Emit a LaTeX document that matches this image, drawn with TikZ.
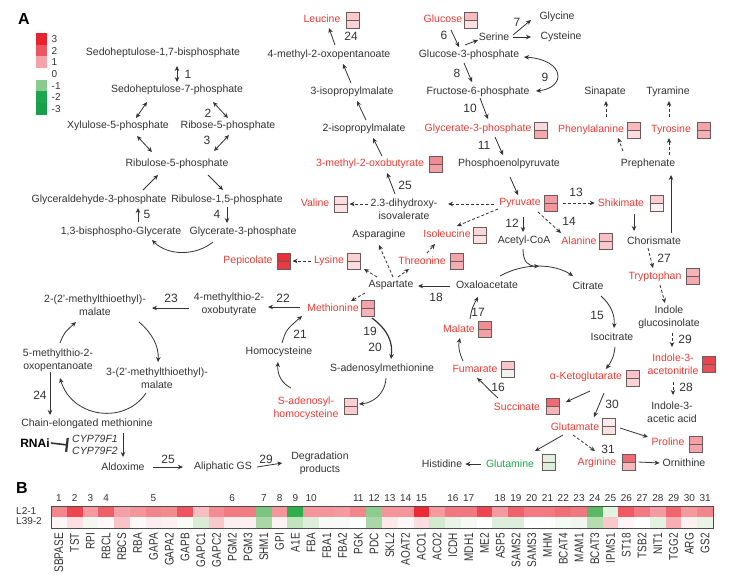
\documentclass[tikz,border=0pt]{standalone}
\usepackage{fontspec}
\setmainfont{Liberation Sans}
\usetikzlibrary{arrows.meta}
\definecolor{tx}{HTML}{333333}
\definecolor{rd}{HTML}{EE3B33}
\definecolor{gn}{HTML}{1FA64A}
\definecolor{bx}{HTML}{6B5B5B}
\definecolor{lc3}{HTML}{E8232F}
\definecolor{lc2}{HTML}{EF5560}
\definecolor{lc1}{HTML}{F6A2A9}
\definecolor{lg1}{HTML}{8CCB8E}
\definecolor{lg2}{HTML}{1CA54F}
\definecolor{lg3}{HTML}{15A049}
\newcommand\mbx[4]{%
  \definecolor{#1t}{HTML}{#3}\definecolor{#1b}{HTML}{#4}%
  \node[bxs] (#1) at #2 {};
  \fill[#1t] (#1.north west) rectangle (#1.east);
  \fill[#1b] (#1.west) rectangle (#1.south east);
  \draw[bx,line width=0.7pt] (#1.north west) rectangle (#1.south east);
  \draw[bx,line width=0.6pt] (#1.west) -- (#1.east);}
\begin{document}
\begin{tikzpicture}[x=1pt,y=-1pt,
  mt/.style={text=tx,font=\fontsize{10.5}{13}\selectfont,inner sep=1pt,align=center},
  mr/.style={mt,text=rd},
  mg/.style={mt,text=gn},
  lb/.style={text=tx,font=\fontsize{12}{12}\selectfont,inner sep=0pt},
  hl/.style={text=tx,font=\fontsize{10}{10}\selectfont,inner sep=0pt},
  gene/.style={rotate=90,anchor=east,text=tx,font=\fontsize{10}{10}\selectfont,inner sep=0pt},
  bxs/.style={minimum width=13pt,minimum height=16pt,inner sep=0pt,outer sep=0pt},
  arr/.style={draw=tx,line width=0.8pt,-{Stealth[length=5pt,width=4.5pt]}},
  darr/.style={arr,dash pattern=on 3pt off 2pt},
  barr/.style={draw=tx,line width=0.8pt,{Stealth[length=5pt,width=4.5pt]}-{Stealth[length=5pt,width=4.5pt]}},
]
\fill[white] (0,0) rectangle (730,574);
\useasboundingbox (0,0) rectangle (730,574);

% panel labels
\node[text=black,font=\bfseries\fontsize{16}{16}\selectfont,inner sep=0pt] (pa) at (24,19) {A};
\node[text=black,font=\bfseries\fontsize{16}{16}\selectfont,inner sep=0pt] (pb) at (22,488) {B};

% legend
\fill[lc3] (36,33) rectangle (47,45);
\fill[lc2] (36,45) rectangle (47,56);
\fill[lc1] (36,56) rectangle (47,68);
\fill[lg1] (36,80) rectangle (47,91);
\fill[lg2] (36,91) rectangle (47,103);
\fill[lg3] (36,103) rectangle (47,115);
\foreach \v/\y [count=\k] in {3/39,2/51,1/62,0/74,-1/86,-2/97,-3/109}
  \node[hl,anchor=west] (lg\k) at (51.5,\y) {\v};

% pentose phosphate
\node[mt] (s17) at (163,53) {Sedoheptulose-1,7-bisphosphate};
\node[mt] (s7) at (177,90) {Sedoheptulose-7-phosphate};
\node[mt] (xyl) at (118,126) {Xylulose-5-phosphate};
\node[mt] (rib) at (228,126) {Ribose-5-phosphate};
\node[mt] (ru5) at (177,164) {Ribulose-5-phosphate};
\node[mt] (gap) at (99,200) {Glyceraldehyde-3-phosphate};
\node[mt] (ru15) at (227,200) {Ribulose-1,5-phosphate};
\node[mt] (bpg) at (121,232) {1,3-bisphospho-Glycerate};
\node[mt] (g3pl) at (243,232) {Glycerate-3-phosphate};
\draw[barr] ([shift={(14,13)}]s17.center) -- ([shift={(0,-8)}]s7.center);
\node[lb] (n1) at (188,74) {1};
\draw[barr] ([shift={(-30,12)}]s7.center) -- ([shift={(18,-8)}]xyl.center);
\draw[barr] ([shift={(36,12)}]s7.center) -- ([shift={(0,-8)}]rib.center);
\node[lb] (n2) at (208,113) {2};
\draw[barr] ([shift={(19,10)}]xyl.center) -- ([shift={(-25,-12)}]ru5.center);
\draw[barr] ([shift={(1,9)}]rib.center) -- ([shift={(37,-13)}]ru5.center);
\node[lb] (n3) at (207,140) {3};
\draw[arr] ([shift={(44,-10)}]gap.center) -- ([shift={(-19,11)}]ru5.center);
\draw[arr] ([shift={(31,11)}]ru5.center) -- ([shift={(-4,-10)}]ru15.center);
\draw[arr] ([shift={(17,-10)}]bpg.center) -- ([shift={(39,8)}]gap.center);
\node[lb] (n5) at (147,214) {5};
\draw[arr] ([shift={(0,7)}]ru15.center) -- ([shift={(-16,-9)}]g3pl.center);
\node[lb] (n4) at (217,214) {4};
\draw[arr] ([shift={(-30,10)}]g3pl.center) .. controls (196,256) and (168,256) .. ([shift={(31,8)}]bpg.center);

% leucine branch
\node[mr] (leu) at (322,19) {Leucine}; \mbx{leuB}{(353,20)}{F9C9CC}{F9D3D6}
\node[mt] (mop) at (329,55) {4-methyl-2-oxopentanoate};
\node[mt] (ipm3) at (352,92) {3-isopropylmalate};
\node[mt] (ipm2) at (364,129) {2-isopropylmalate};
\node[mr] (mob) at (370,164) {3-methyl-2-oxobutyrate}; \mbx{mobB}{(436,164)}{F08C93}{F4A0A6}
\node[mt] (dhi) at (404,209) {2.3-dihydroxy-\\isovalerate};
\node[mr] (val) at (315,203) {Valine}; \mbx{valB}{(341,204)}{FBDDE0}{FBE3E5}
\draw[arr] ([shift={(6,-10)}]mop.center) -- ([shift={(7,9)}]leu.center);
\node[lb] (n24a) at (351,36) {24};
\draw[arr] ([shift={(-1,-9)}]ipm3.center) -- ([shift={(14,9)}]mop.center);
\draw[arr] ([shift={(2,-9)}]ipm2.center) -- ([shift={(5,9)}]ipm3.center);
\draw[arr] ([shift={(12,-8)}]mob.center) -- ([shift={(9,9)}]ipm2.center);
\draw[arr] ([shift={(-9,-15)}]dhi.center) -- ([shift={(17,9)}]mob.center);
\node[lb] (n25a) at (405,185) {25};
\draw[darr] ([shift={(-36,-5)}]dhi.center) -- ([xshift=2pt]valB.east);

% glycolysis
\node[mr] (glc) at (443,19) {Glucose}; \mbx{glcB}{(471,20)}{F7BCC0}{FBE1E3}
\node[mt] (g3p) at (469,55) {Glucose-3-phosphate};
\node[mt] (ser) at (494,37) {Serine};
\node[mt] (gly) at (557,17) {Glycine};
\node[mt] (cys) at (561,37) {Cysteine};
\node[mt] (f6p) at (478,92) {Fructose-6-phosphate};
\node[mr] (g3pr) at (478,129) {Glycerate-3-phosphate}; \mbx{g3prB}{(541,130)}{FBD8DB}{F5A7AD}
\node[mt] (pep) at (509,164) {Phosphoenolpyruvate};
\node[mr] (pyr) at (520,203) {Pyruvate}; \mbx{pyrB}{(551,203)}{F49BA1}{F3959B}
\draw[arr] ([shift={(8,11)}]glc.center) -- ([shift={(-10,-8)}]g3p.center);
\node[lb] (n6) at (444,35) {6};
\draw[arr] ([shift={(-4,-10)}]g3p.center) -- ([shift={(-16,3)}]ser.center);
\draw[arr] ([shift={(19,-2)}]ser.center) -- ([shift={(-26,3)}]gly.center);
\draw[arr] ([shift={(19,0)}]ser.center) -- ([shift={(-30,0)}]cys.center);
\node[lb] (n7) at (517,22) {7};
\draw[arr] ([shift={(-5,8)}]g3p.center) -- ([shift={(-6,-10)}]f6p.center);
\node[lb] (n8) at (457,73) {8};
\draw[barr] ([shift={(58,-1)}]f6p.center) .. controls (566,88) and (566,60) .. ([shift={(55,2)}]g3p.center);
\node[lb] (n9) at (545,77) {9};
\draw[arr] ([shift={(2,6)}]f6p.center) -- ([shift={(10,-10)}]g3pr.center);
\node[lb] (n10) at (470,108) {10};
\draw[arr] ([shift={(17,8)}]g3pr.center) -- ([shift={(-6,-9)}]pep.center);
\node[lb] (n11) at (484,145) {11};
\draw[arr] ([shift={(1,13)}]pep.center) -- ([shift={(-2,-8)}]pyr.center);

% aromatic
\node[mr] (shk) at (621,203) {Shikimate}; \mbx{shkB}{(657,203)}{F9CDD0}{FDF0F1}
\node[mt] (cho) at (654,241) {Chorismate};
\node[mt] (pre) at (648,164) {Prephenate};
\node[mr] (phe) at (591,130) {Phenylalanine}; \mbx{pheB}{(634,130)}{F7B9BE}{FBDCDF}
\node[mr] (tyr) at (671,130) {Tyrosine}; \mbx{tyrB}{(704,130)}{F4A3A9}{F6B0B5}
\node[mt] (sin) at (605,92) {Sinapate};
\node[mt] (tym) at (668,92) {Tyramine};
\node[mr] (trp) at (655,277) {Tryptophan}; \mbx{trpB}{(693,276)}{F6B3B8}{F5A9AE}
\node[mt] (igs) at (669,317) {Indole\\glucosinolate};
\node[mr] (ian) at (673,364) {Indole-3-\\acetonitrile}; \mbx{ianB}{(709,364)}{E8454E}{EA4F58}
\node[mt] (iaa) at (672,412) {Indole-3-\\acetic acid};
\draw[darr] ([xshift=5pt]pyrB.east) -- ([xshift=-2pt]shk.west);
\node[lb] (n13) at (576,192) {13};
\draw[arr] ([shift={(13,11)}]shk.center) -- ([shift={(-20,-10)}]cho.center);
\draw[arr] ([shift={(17,-8)}]cho.center) -- ([shift={(23,11)}]pre.center);
\draw[darr] ([shift={(-25,-13)}]pre.center) -- ([shift={(27,8)}]phe.center);
\draw[darr] ([shift={(21,-9)}]pre.center) -- ([shift={(-2,8)}]tyr.center);
\draw[darr] ([shift={(15,-13)}]phe.center) -- ([shift={(1,9)}]sin.center);
\draw[darr] ([shift={(-2,-13)}]tyr.center) -- ([shift={(1,9)}]tym.center);
\draw[darr] ([shift={(-6,7)}]cho.center) -- ([shift={(-2,-9)}]trp.center);
\node[lb] (n27) at (664,258) {27};
\draw[darr] ([shift={(5,8)}]trp.center) -- ([shift={(-4,-14)}]igs.center);
\draw[darr] ([shift={(3,16)}]igs.center) -- ([shift={(-1,-17)}]ian.center);
\node[lb] (n29a) at (685,339) {29};
\draw[darr] ([shift={(0,18)}]ian.center) -- ([shift={(1,-17)}]iaa.center);
\node[lb] (n28) at (686,387) {28};

% pyruvate branch and aspartate family
\node[mt] (acoa) at (524,241) {Acetyl-CoA};
\node[mr] (ala) at (579,241) {Alanine}; \mbx{alaB}{(606,241)}{F8C0C4}{F8C8CB}
\node[mr] (ile) at (447,234) {Isoleucine}; \mbx{ileB}{(480,235)}{FBD7DA}{FCE2E4}
\node[mt] (asn) at (379,235) {Asparagine};
\node[mr] (lys) at (329,261) {Lysine}; \mbx{lysB}{(354,261)}{FAD0D3}{FBDDE0}
\node[mr] (pip) at (248,261) {Pepicolate}; \mbx{pipB}{(284,261)}{E83039}{E93A43}
\node[mr] (thr) at (422,261) {Threonine}; \mbx{thrB}{(457,261)}{F4A5AB}{F5ADB2}
\node[mt] (asp) at (391,285) {Aspartate};
\node[mt] (oaa) at (487,285) {Oxaloacetate};
\node[mr] (met) at (333,308) {Methionine}; \mbx{metB}{(368,308)}{F4A3A9}{F6B3B8}
\draw[arr] ([shift={(3,14)}]pyr.center) -- ([shift={(-1,-9)}]acoa.center);
\node[lb] (n12) at (512,223) {12};
\draw[darr] ([shift={(18,9)}]pyr.center) -- ([shift={(-18,-8)}]ala.center);
\node[lb] (n14) at (569,221) {14};
\draw[darr] ([shift={(-26,1)}]pyr.center) -- ([shift={(44,-5)}]dhi.center);
\draw[darr] ([shift={(-22,6)}]pyr.center) -- ([shift={(10,-8)}]ile.center);
\draw[darr] ([xshift=-2pt]lys.west) -- ([xshift=2pt]pipB.east);
\draw[darr] ([shift={(2,-8)}]asp.center) -- ([shift={(0,10)}]asn.center);
\draw[darr] ([shift={(-14,-8)}]asp.center) -- ([shift={(10,8)}]lysB.center);
\draw[darr] ([shift={(7,-8)}]asp.center) -- ([shift={(-13,8)}]thr.center);
\draw[darr] ([shift={(-26,8)}]asp.center) -- ([shift={(18,-7)}]met.center);
\draw[darr] ([shift={(5,-8)}]thr.center) -- ([shift={(-12,10)}]ile.center);
\draw[arr] ([shift={(-37,1)}]oaa.center) -- ([shift={(27,1)}]asp.center);
\node[lb] (n18) at (436,297) {18};

% methionine chain elongation
\node[mt] (mtob) at (229,304) {4-methylthio-2-\\oxobutyrate};
\draw[arr] ([shift={(-33,-1)}]met.center) -- ([shift={(39,3)}]mtob.center);
\node[lb] (n22) at (283,298) {22};
\node[mt] (mtem) at (95,305) {2-(2’-methylthioethyl)-\\malate};
\draw[arr] ([shift={(-40,4)}]mtob.center) -- ([shift={(57,3)}]mtem.center);
\node[lb] (n23) at (171,298) {23};
\node[mt] (mtem3) at (157,378) {3-(2’-methylthioethyl)-\\malate};
\node[mt] (mtop) at (58,360) {5-methylthio-2-\\oxopentanoate};
\draw[arr] ([shift={(44,17)}]mtem.center) .. controls (152,333) and (159,346) .. ([shift={(1,-16)}]mtem3.center);
\draw[arr] ([shift={(2,-17)}]mtop.center) .. controls (64,333) .. ([shift={(-19,17)}]mtem.center);
\draw[arr] ([shift={(-11,15)}]mtem3.center) .. controls (125,425) and (72,418) .. ([shift={(2,18)}]mtop.center);
\node[mt] (cen) at (87,424) {Chain-elongated methionine};
\draw[arr] ([shift={(-8,12)}]mtop.center) -- ([shift={(-37,-9)}]cen.center);
\node[lb] (n24b) at (40,395) {24};
\node[text=black,font=\bfseries\fontsize{12}{12}\selectfont,inner sep=1pt] (rnai) at (35,443) {RNAi};
\node[mt,font=\itshape\fontsize{10.5}{12}\selectfont,align=left] (cyp) at (95,445) {CYP79F1\\CYP79F2};
\draw[tx,line width=1.6pt,-{Bar[width=14pt,line width=2.2pt]}] (rnai.east) -- ([xshift=-3pt]cyp.west);
\node[mt] (ald) at (123,467) {Aldoxime};
\draw[arr] ([shift={(36,9)}]cen.center) -- ([shift={(0,-10)}]ald.center);
\node[mt] (ags) at (223,467) {Aliphatic GS};
\draw[arr] ([xshift=7pt]ald.east) -- ([xshift=-10pt]ags.west);
\node[lb] (n25b) at (168,459) {25};
\node[mt] (deg) at (320,463) {Degradation\\products};
\draw[arr] ([xshift=4pt]ags.east) -- ([xshift=-8pt]deg.west);
\node[lb] (n29b) at (266,459) {29};

% methionine cycle
\node[mt] (hcy) at (279,352) {Homocysteine};
\node[mt] (sam) at (382,369) {S-adenosylmethionine};
\node[mr] (sah) at (306,408) {S-adenosyl-\\homocysteine}; \mbx{sahB}{(351,406)}{F9D0D3}{F9CBCE}
\draw[arr] ([shift={(3,-9)}]hcy.center) .. controls (286,330) .. ([shift={(-31,8)}]met.center);
\node[lb] (n21) at (300,334) {21};
\draw[arr,line width=1.2pt] ([shift={(4,10)}]metB.center) .. controls (388,330) and (393,342) .. ([shift={(9,-10)}]sam.center);
\node[lb] (n19) at (370,331) {19};
\node[lb] (n20) at (375,347) {20};
\draw[arr] ([shift={(4,9)}]sam.center) .. controls (385,395) and (372,403) .. ([shift={(8,-2)}]sahB.center);
\draw[arr] ([shift={(-15,-20)}]sah.center) .. controls (283,384) and (277,376) .. ([shift={(-1,10)}]hcy.center);

% TCA cycle
\node[mt] (cit) at (588,286) {Citrate};
\draw[arr] ([shift={(13,-9)}]oaa.center) .. controls (525,262) and (555,264) .. ([shift={(-15,-10)}]cit.center) coordinate[pos=0.5] (mrg);
\draw[arr] ([shift={(-1,8)}]acoa.center) .. controls (523,262) and (528,266) .. (mrg);
\node[mt] (icit) at (612,337) {Isocitrate};
\draw[arr] ([shift={(13,10)}]cit.center) .. controls (611,305) and (615,315) .. ([shift={(2,-9)}]icit.center);
\node[lb] (n15) at (597,315) {15};
\node[mr] (akg) at (586,377) {α-Ketoglutarate}; \mbx{akgB}{(633,378)}{F9C3C7}{FAD3D6}
\draw[arr] ([shift={(3,10)}]icit.center) .. controls (614,357) and (611,362) .. ([shift={(20,-8)}]akg.center);
\node[mr] (suc) at (517,407) {Succinate}; \mbx{sucB}{(553,406)}{EE6B73}{F6B3B8}
\draw[arr] ([shift={(4,14)}]akg.center) -- ([shift={(13,-4)}]sucB.center);
\node[mr] (fum) at (475,369) {Fumarate}; \mbx{fumB}{(508,369)}{F9C6CA}{EEF5EC}
\draw[arr] ([shift={(-19,-9)}]suc.center) .. controls (490,391) and (484,384) .. ([shift={(2,9)}]fum.center);
\node[lb] (n16) at (498,387) {16};
\node[mr] (mal) at (459,329) {Malate}; \mbx{malB}{(485,329)}{F28D94}{F4A0A6}
\draw[arr] ([shift={(-12,-8)}]fum.center) .. controls (459,352) and (458,346) .. ([shift={(1,9)}]mal.center);
\draw[arr] ([shift={(11,-10)}]mal.center) .. controls (472,308) .. ([shift={(-9,12)}]oaa.center);
\node[lb] (n17) at (478,312) {17};
\node[mr] (glu) at (575,427) {Glutamate}; \mbx{gluB}{(609,426)}{FCEBEC}{FBE0E2}
\draw[arr] ([shift={(18,16)}]akg.center) -- ([shift={(19,-10)}]glu.center);
\node[lb] (n30) at (612,404) {30};
\node[mr] (pro) at (668,442) {Proline}; \mbx{proB}{(696,444)}{F4A0A6}{F5A5AB}
\draw[arr] ([shift={(11,2)}]gluB.center) -- ([shift={(-20,-5)}]pro.center);
\node[mr] (arg) at (597,463) {Arginine}; \mbx{argB}{(629,462)}{EE6B73}{F7B8BC}
\draw[darr] ([shift={(-2,8)}]glu.center) -- ([shift={(-2,-12)}]arg.center);
\node[lb] (n31) at (608,449) {31};
\node[mt] (orn) at (684,463) {Ornithine};
\draw[arr] ([xshift=3pt]argB.east) -- ([xshift=-2pt]orn.west);
\node[mg] (gln) at (510,464) {Glutamine}; \mbx{glnB}{(549,462)}{E2F0DE}{DCEDD8}
\draw[arr] ([shift={(-12,8)}]glu.center) -- ([shift={(25,-13)}]gln.center);
\node[mt] (his) at (442,464) {Histidine};
\draw[arr] ([xshift=-4pt]gln.west) -- ([xshift=2pt]his.east);

% heatmap
\foreach \c [count=\i] in {F3868D,EE4650,F49AA0,EF5F68,F5A0A6,F4959C,F2848B,F28A90,EE5560,F8BCC1,F38C93,F27A83,F27A83,7CC47F,F5959C,2DB04B,F4959C,F4959C,F49AA0,F3868D,8DCC8E,F4959C,F4959C,EC2A35,F49AA0,F17880,F17880,EE4650,F49AA0,F0636C,F27A83,F27A83,F17078,F17880,5DB866,E4F2E2,EF5A63,F27A83,F49AA0,F0666E,F49AA0,F3868D}
  {\definecolor{hcl}{HTML}{\c}\fill[hcl] ({51+(\i-1)*15.762},506) rectangle ({51.3+\i*15.762},517);}
\foreach \c [count=\i] in {FFF5F5,FCE0E2,F2F8F0,FFF8F8,F9C3C7,FFFAFA,FDEDEE,FDF0F1,F8FBF6,D9EDD6,F9C8CB,FDEFF0,FDEFF0,A9D8A6,FDF3F4,C1E3BE,DDEFDA,F8FAF7,F8FAF7,FFFFFF,A9D8A6,FDE8EA,FFF8F8,FCDDE0,D2EACF,E9F4E7,F5FAF4,FFFFFF,DDEFDA,DDEFDA,FFFFFF,FFFFFF,F5FAF4,F0F7EF,B6DDB2,F9C8CB,FEF5F6,FFFFFF,E4F2E2,F7AFB4,FDF0F1,E9F4E7}
  {\definecolor{hcl}{HTML}{\c}\fill[hcl] ({51+(\i-1)*15.762},517) rectangle ({51.3+\i*15.762},528);}
\draw[draw=black!70,line width=1pt] (51,506) rectangle (713,528);
\node[hl,anchor=west] (r1) at (16,511) {L2-1};
\node[hl,anchor=west] (r2) at (16,521) {L39-2};
\foreach \cl/\nm in {1/1,2/2,3/3,4/4,7/5,12/6,14/7,15/8,16/9,17/10,20/11,21/12,22/13,23/14,24/15,26/16,27/17,29/18,30/19,31/20,32/21,33/22,34/23,35/24,36/25,37/26,38/27,39/28,40/29,41/30,42/31}
  \node[hl] (hn\nm) at ({51+(\cl-0.5)*15.762},498) {\nm};
\foreach \g [count=\i] in {SBPASE,TST,RPI,RBCL,RBCS,RBA,GAPA,GAPA2,GAPB,GAPC1,GAPC2,PGM2,PGM3,SHM1,GPI,A1E,FBA,FBA1,FBA2,PGK,PDC,SKL2,AOAT2,ACO1,ACO2,ICDH,MDH1,ME2,ASP5,SAMS2,SAMS3,MHM,BCAT4,MAM1,BCAT3,IPMS1,ST18,TSB2,NIT1,TGG2,ARG,GS2}
  \node[gene] (gn\i) at ({51+(\i-0.5)*15.762},533) {\scalebox{1}[1.25]{\g}};
\end{tikzpicture}
\end{document}
